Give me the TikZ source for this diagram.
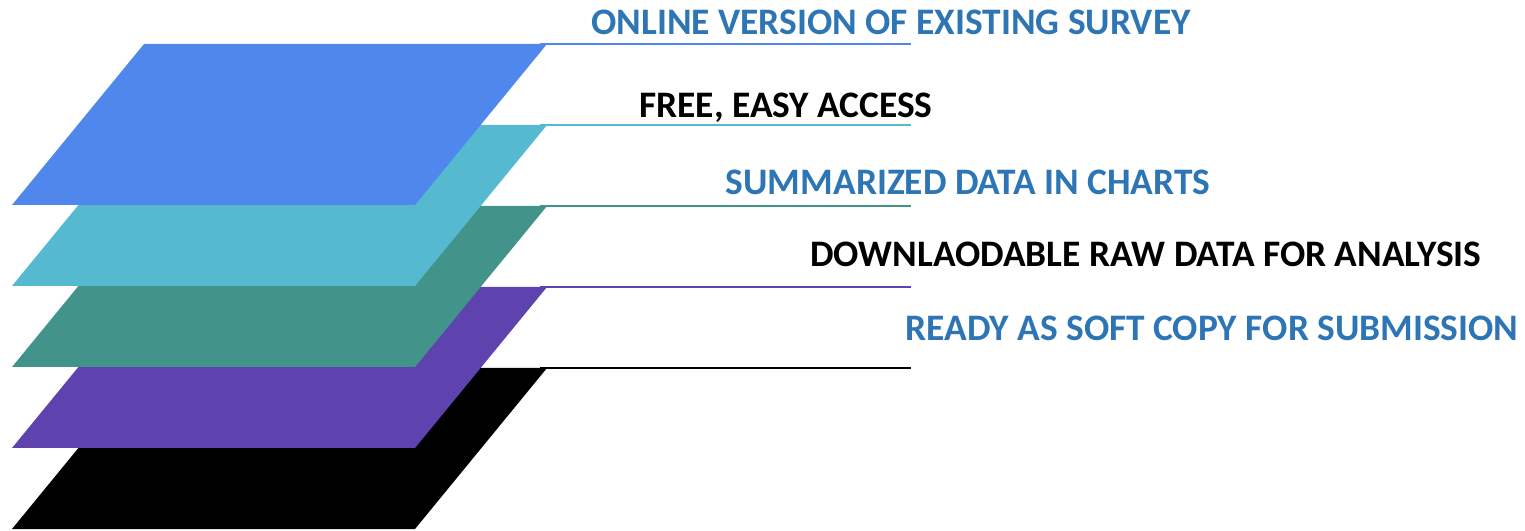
\documentclass[tikz,border=0pt]{standalone}
\usepackage{fontspec}
\setmainfont{Carlito}
\usetikzlibrary{positioning}
\definecolor{layerblue}{HTML}{5087EC}
\definecolor{layercyan}{HTML}{55BAD0}
\definecolor{layerteal}{HTML}{42938A}
\definecolor{layerpurple}{HTML}{5E43AF}
\definecolor{layerblack}{HTML}{000000}
\definecolor{capblue}{HTML}{2E75B6}
\tikzset{layer/.style={fill=#1,draw=none},
         leader/.style={draw=#1,line width=0.8pt},
         caption/.style={font=\bfseries\fontsize{18.7}{22}\selectfont,inner sep=0pt,text=#1}}

\begin{document}
\begin{tikzpicture}[x=0.5pt,y=0.5pt]
    \useasboundingbox (0,0) rectangle (1525,530);
    % stacked layers, drawn bottom first
    \foreach \i/\col in {4/layerblack,3/layerpurple,2/layerteal,1/layercyan,0/layerblue} {
      \fill[layer=\col] (12,{486-81*\i-161}) -- ++(132,161) -- ++(403,0) -- ++(-132,-161) -- cycle;
      \coordinate (c\i) at (540,{486-81*\i});
      \coordinate (e\i) at (911,{486-81*\i});
      \draw[leader=\col] (c\i) -- (e\i);
    }
    \node (t0) [caption=capblue] at (891,508) {ONLINE VERSION OF EXISTING SURVEY};
    \node (t1) [caption=black] at (786,422) {FREE, EASY ACCESS};
    \node (t2) [caption=capblue] at (968,348) {SUMMARIZED DATA IN CHARTS};
    \node (t3) [caption=black] at (1146,276) {DOWNLAODABLE RAW DATA FOR ANALYSIS};
    \node (t4) [caption=capblue] at (1212,202) {READY AS SOFT COPY FOR SUBMISSION};
  \end{tikzpicture}
\end{document}
